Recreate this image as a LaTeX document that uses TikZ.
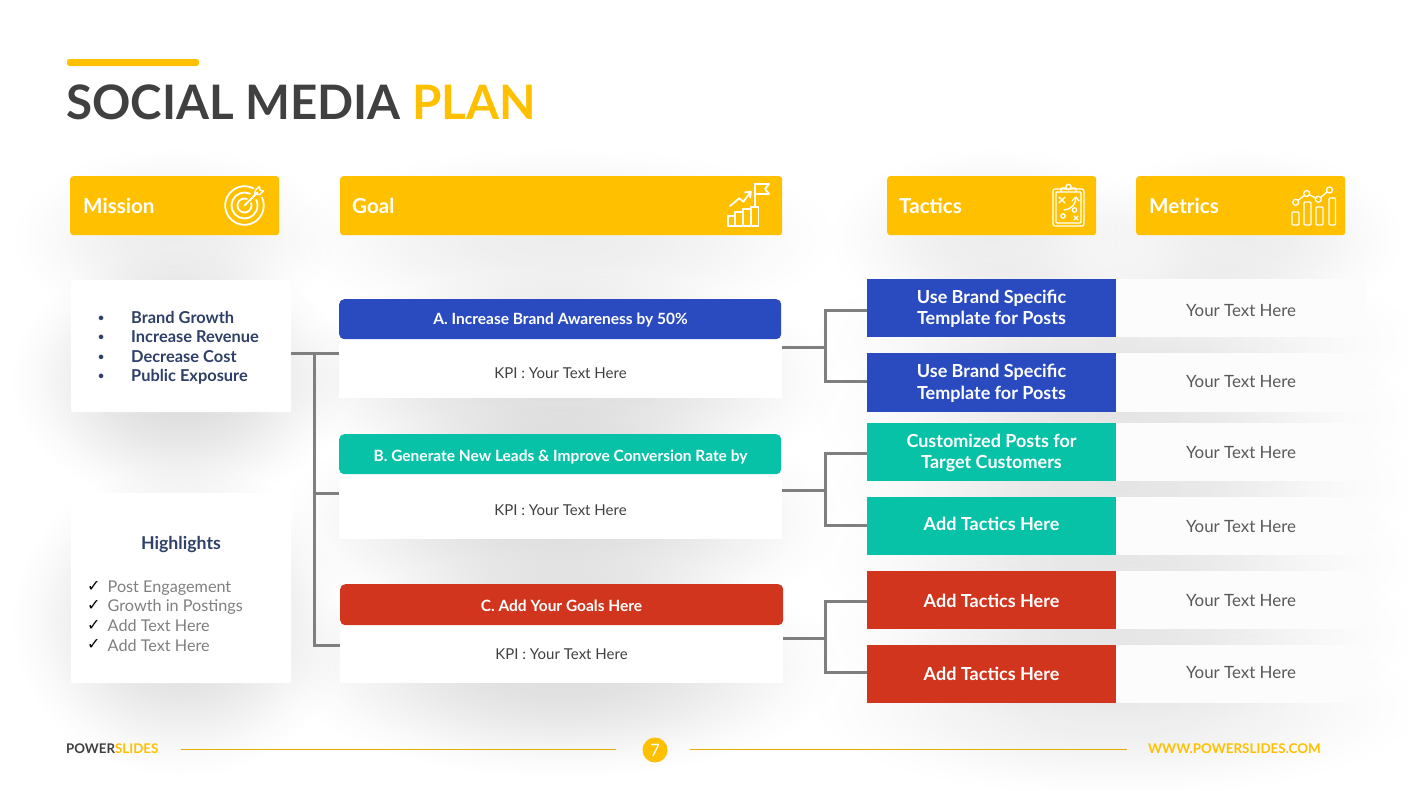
\documentclass[tikz,border=0pt]{standalone}
\usepackage{fontspec}
\setmainfont{Lato}
\newfontfamily\symfont{DejaVu Sans}
\usetikzlibrary{calc,fadings}
\definecolor{amberc}{HTML}{FFC000}
\definecolor{bluebox}{HTML}{2A4BC0}
\definecolor{tealbox}{HTML}{08C2A8}
\definecolor{redbox}{HTML}{D2351E}
\definecolor{navy}{HTML}{2F4068}
\definecolor{darktxt}{HTML}{404040}
\definecolor{wire}{HTML}{7F7F7F}
\definecolor{softtxt}{HTML}{808080}
\definecolor{midtxt}{HTML}{595959}
\definecolor{cellc}{HTML}{FCFCFC}
\pgfdeclareradialshading{gaussglow}{\pgfpointorigin}{%
  color(0bp)=(pgftransparent!0);
  color(7.5bp)=(pgftransparent!12);
  color(12.5bp)=(pgftransparent!35);
  color(17.5bp)=(pgftransparent!65);
  color(21.5bp)=(pgftransparent!88);
  color(25bp)=(pgftransparent!100);
  color(50bp)=(pgftransparent!100)}
\pgfdeclarefading{softglow}{\pgfuseshading{gaussglow}}
\tikzset{
  x=1pt,y=-1pt,
  headbox/.style={fill=amberc,rounded corners=3pt,minimum height=59pt,anchor=north west,inner sep=0pt},
  headtxt/.style={text=white,font=\fontsize{20.6}{25}\selectfont\bfseries,anchor=west,inner sep=0pt},
  cardbox/.style={fill=white,rounded corners=2pt,minimum width=220pt,anchor=north west,inner sep=0pt},
  goalhead/.style={rounded corners=5pt,anchor=north west,inner sep=0pt},
  kpibox/.style={fill=white,anchor=north west,inner sep=0pt},
  goaltxt/.style={text=white,font=\fontsize{15.5}{18}\selectfont\bfseries,inner sep=0pt},
  kpitxt/.style={text=darktxt,font=\fontsize{15}{18}\selectfont,inner sep=0pt},
  tacticbox/.style={minimum width=249pt,anchor=north west,inner sep=0pt},
  tactictxt/.style={text=white,font=\fontsize{18}{21.5}\selectfont\bfseries,align=center,inner sep=0pt},
  metricbox/.style={minimum width=250pt,anchor=north west,inner sep=0pt},
  metrictxt/.style={text=midtxt,font=\fontsize{16.9}{18}\selectfont,inner sep=0pt},
  wireline/.style={draw=wire,line width=3pt},
  iconline/.style={draw=white,line width=1.8pt,line join=round,line cap=round},
  listtxt/.style={anchor=base west,inner sep=0pt},
}
% soft drop shadow: x0 y0 x1 y1 opacity
\newcommand{\softshadow}[5]{%
  \fill[black,fill opacity=#5,path fading=softglow,fit fading=true]
    ($(#1,#2)+(-60,-30)$) rectangle ($(#3,#4)+(60,95)$);}
\begin{document}
\begin{tikzpicture}
\useasboundingbox (0,0) rectangle (1408,790);
\fill[white] (0,0) rectangle (1408,790);

% shadows
\softshadow{70}{176}{279}{235}{0.07}
\softshadow{340}{176}{782}{235}{0.07}
\softshadow{887}{176}{1096}{235}{0.07}
\softshadow{1136}{176}{1345}{235}{0.07}
\softshadow{71}{280}{291}{412}{0.14}
\softshadow{71}{493}{291}{683}{0.14}
\softshadow{339}{299}{782}{398}{0.13}
\softshadow{339}{434}{782}{539}{0.13}
\softshadow{340}{584}{783}{683}{0.13}
\softshadow{867}{279}{1366}{337}{0.07}
\softshadow{867}{353}{1366}{412}{0.07}
\softshadow{867}{423}{1366}{481}{0.07}
\softshadow{867}{497}{1366}{555}{0.07}
\softshadow{867}{571}{1366}{629}{0.07}
\softshadow{867}{645}{1366}{703}{0.07}

% title
\fill[amberc,rounded corners=2.5pt] (67,59) rectangle (199,66);
\node[anchor=base west,inner sep=0pt,font=\fontsize{47.5}{56}\selectfont\bfseries] (title) at (66,119.5)
  {\textcolor{darktxt}{SOCIAL MEDIA} \textcolor{amberc}{PLAN}};

% column headers
\node[headbox,minimum width=209pt] (hmission) at (70,176) {};
\node[headbox,minimum width=442pt] (hgoal) at (340,176) {};
\node[headbox,minimum width=209pt] (htactics) at (887,176) {};
\node[headbox,minimum width=209pt] (hmetrics) at (1136,176) {};
\node[headtxt] (tmission) at (83,205.5) {Mission};
\node[headtxt] (tgoal) at (352,205.5) {Goal};
\node[headtxt] (ttactics) at (899,205.5) {Tactics};
\node[headtxt] (tmetrics) at (1149,205.5) {Metrics};

% icon: target
\begin{scope}[shift={(244.5,205.5)},x=1pt,y=1pt,iconline]
  \draw (62:19.3) arc[start angle=62,end angle=385,radius=19.3];
  \draw (65:13) arc[start angle=65,end angle=385,radius=13];
  \draw (70:7) arc[start angle=70,end angle=380,radius=7];
  \draw (0,0) -- (13,13);
  \draw[line width=1.4pt] (10,11) -- (11,15.5) -- (15,19) -- (15.5,15.5) -- (19,14.5) -- (15,11) -- cycle;
\end{scope}
% icon: growth & flag
\begin{scope}[iconline]
  \draw (728,226) rectangle (735,215.7);
  \draw (735,226) rectangle (743,211.7);
  \draw (743,226) rectangle (751,209.3);
  \draw (751,226) rectangle (758.5,206.7);
  \draw (755,206.7) -- (755,184);
  \draw (755,184) -- (769,184) -- (765,189) -- (769,194) -- (755,194);
  \draw (730,206) -- (739.3,198.3) -- (743.3,201.7) -- (750.7,192);
  \draw (745,192.3) -- (750.7,191.7) -- (750.2,197.5);
\end{scope}
% icon: clipboard
\begin{scope}[iconline,line width=1.3pt]
  \draw[rounded corners=2pt] (1053,189) rectangle (1084,226);
  \draw[rounded corners=1pt] (1056,192) rectangle (1081,223);
  \draw[rounded corners=1pt] (1061,192) -- (1061,188) -- (1065,188) (1072,188) -- (1076,188) -- (1076,192);
  \draw (1068.5,187) circle[radius=2.7];
  \draw (1059,197) -- (1065,203) (1065,197) -- (1059,203);
  \draw (1064,210) .. controls (1071,209) and (1075,206) .. (1076,198);
  \draw (1072,201) -- (1076,197) -- (1079,201);
  \draw (1074.5,210) circle[radius=2.2];
  \draw (1063,216) circle[radius=2.2];
  \draw (1074,216) -- (1078,220) (1078,216) -- (1074,220);
\end{scope}
% icon: metrics
\begin{scope}[iconline,line width=1.3pt]
  \draw[rounded corners=1pt] (1292,212) rectangle (1299,225);
  \draw[rounded corners=1pt] (1304,202) rectangle (1311,225);
  \draw[rounded corners=1pt] (1316,207) rectangle (1323,225);
  \draw[rounded corners=1pt] (1329,198) rectangle (1335.5,225);
  \draw (1295.7,202.3) circle[radius=3];
  \draw (1306.7,193.5) circle[radius=3];
  \draw (1318.3,199.3) circle[radius=3];
  \draw (1329.5,190) circle[radius=3];
  \draw (1298,200.4) -- (1304.4,195.4) (1309.4,194.8) -- (1315.6,198) (1320.6,197.4) -- (1327.2,191.9);
\end{scope}

% left cards
\node[cardbox,minimum height=132pt] (cmission) at (71,280) {};
\node[cardbox,minimum height=190pt] (chigh) at (71,493) {};
\begin{scope}[every node/.style={listtxt,text=navy,font=\fontsize{16.4}{18}\selectfont\bfseries}]
  \node (m1) at (131,323.5) {Brand Growth};
  \node (m2) at (131,342.7) {Increase Revenue};
  \node (m3) at (131,362.7) {Decrease Cost};
  \node (m4) at (131,381.7) {Public Exposure};
\end{scope}
\begin{scope}[every node/.style={listtxt,text=navy,font=\fontsize{10.5}{11}\selectfont\bfseries}]
  \node (b1) at (98,321.5) {•};
  \node (b2) at (98,340.5) {•};
  \node (b3) at (98,360.5) {•};
  \node (b4) at (98,379.5) {•};
\end{scope}
\node[anchor=base,inner sep=0pt,text=navy,font=\fontsize{17.7}{22}\selectfont\bfseries] (hl) at (181,549.5) {Highlights};
\begin{scope}[every node/.style={listtxt,text=softtxt,font=\fontsize{16.2}{18}\selectfont}]
  \node (h1) at (107.5,592.7) {Post Engagement};
  \node (h2) at (107.5,611.7) {Growth in Postings};
  \node (h3) at (107.5,631.7) {Add Text Here};
  \node (h4) at (107.5,651) {Add Text Here};
\end{scope}
\begin{scope}[every node/.style={listtxt,text=black,font=\symfont\fontsize{16}{16}\selectfont}]
  \node (k1) at (87,591) {✓};
  \node (k2) at (87,610) {✓};
  \node (k3) at (87,630) {✓};
  \node (k4) at (87,649) {✓};
\end{scope}

% goals
\node[kpibox,minimum width=443pt,minimum height=64pt] (ka) at (339,334) {};
\node[kpibox,minimum width=443pt,minimum height=70pt] (kb) at (339,469) {};
\node[kpibox,minimum width=443pt,minimum height=63pt] (kc) at (340,620) {};
\node[goalhead,fill=bluebox,minimum width=442pt,minimum height=40pt] (ga) at (339,299) {};
\node[goalhead,fill=tealbox,minimum width=442pt,minimum height=40pt] (gb) at (339,434) {};
\node[goalhead,fill=redbox,minimum width=443pt,minimum height=41pt] (gc) at (340,584) {};
\node[goaltxt] (gat) at (560.5,320) {A. Increase Brand Awareness by 50\%};
\node[goaltxt] (gbt) at (560.5,457) {B. Generate New Leads \& Improve Conversion Rate by};
\node[goaltxt] (gct) at (561.5,605.5) {C. Add Your Goals Here};
\node[kpitxt] (kat) at (560.5,373.5) {KPI : Your Text Here};
\node[kpitxt] (kbt) at (560.5,510.5) {KPI : Your Text Here};
\node[kpitxt] (kct) at (561.5,654.5) {KPI : Your Text Here};

% tactic rows
\newcommand{\tacticrow}[7]{% name, y0, height, colour, text y, text, metric text y
  \node[tacticbox,fill=#4,minimum height=#3pt] (t#1) at (867,#2) {};
  \node[metricbox,fill=cellc,minimum height=#3pt] (c#1) at (1116,#2) {};
  \node[tactictxt] (l#1) at (991.5,#5) {#6};
  \node[metrictxt] (v#1) at (1241,#7) {Your Text Here};
}
\tacticrow{1}{279}{58}{bluebox}{309}{Use Brand Specific\\Template for Posts}{311}
\tacticrow{2}{353}{59}{bluebox}{383.5}{Use Brand Specific\\Template for Posts}{382}
\tacticrow{3}{423}{58}{tealbox}{453}{Customized Posts for\\Target Customers}{453}
\tacticrow{4}{497}{58}{tealbox}{523.5}{Add Tactics Here}{527}
\tacticrow{5}{571}{58}{redbox}{600.5}{Add Tactics Here}{601}
\tacticrow{6}{645}{58}{redbox}{673.5}{Add Tactics Here}{673}

% connectors, left bus
\coordinate (busA) at (314,353);
\coordinate (busB) at (314,493);
\coordinate (busC) at (314,645);
\draw[wireline] (cmission.east |- busA) -- (ka.west |- busA);
\draw[wireline,line cap=rect] (busA) -- (busC);
\draw[wireline] (busB) -- (kb.west |- busB);
\draw[wireline] (busC) -- (kc.west |- busC);
% connectors, right forks
\newcommand{\fork}[7]{% from node, to1, to2, ytrunk, y1, y2, name
  \coordinate (#7t) at (825,#4);
  \coordinate (#7a) at (825,#5);
  \coordinate (#7b) at (825,#6);
  \draw[wireline] (#1.east |- #7t) -- (#7t);
  \draw[wireline] (#2.west |- #7a) -- (#7a) -- (#7b) -- (#3.west |- #7b);
}
\fork{ka}{t1}{t2}{347}{310}{381}{fa}
\fork{kb}{t3}{t4}{490}{453}{525}{fb}
\fork{kc}{t5}{t6}{638}{601}{672}{fc}

% footer
\node[anchor=base west,inner sep=0pt,font=\fontsize{13.3}{15}\selectfont\bfseries] (brand) at (66,753)
  {\textcolor{darktxt}{POWER}\textcolor{amberc}{SLIDES}};
\node[anchor=base east,inner sep=0pt,text=amberc,font=\fontsize{13.4}{15}\selectfont\bfseries] (web) at (1321,753) {WWW.POWERSLIDES.COM};
\node[circle,fill=amberc,minimum size=25pt,inner sep=0pt,text=white,font=\fontsize{17}{17}\selectfont] (pg) at (655,750) {7};
\coordinate (fl1) at (181,749.5);
\coordinate (fr2) at (1127,749.5);
\draw[draw=amberc!90!black,line width=0.9pt] (fl1) -- (616,749.5) (690,749.5) -- (fr2);
\end{tikzpicture}
\end{document}
